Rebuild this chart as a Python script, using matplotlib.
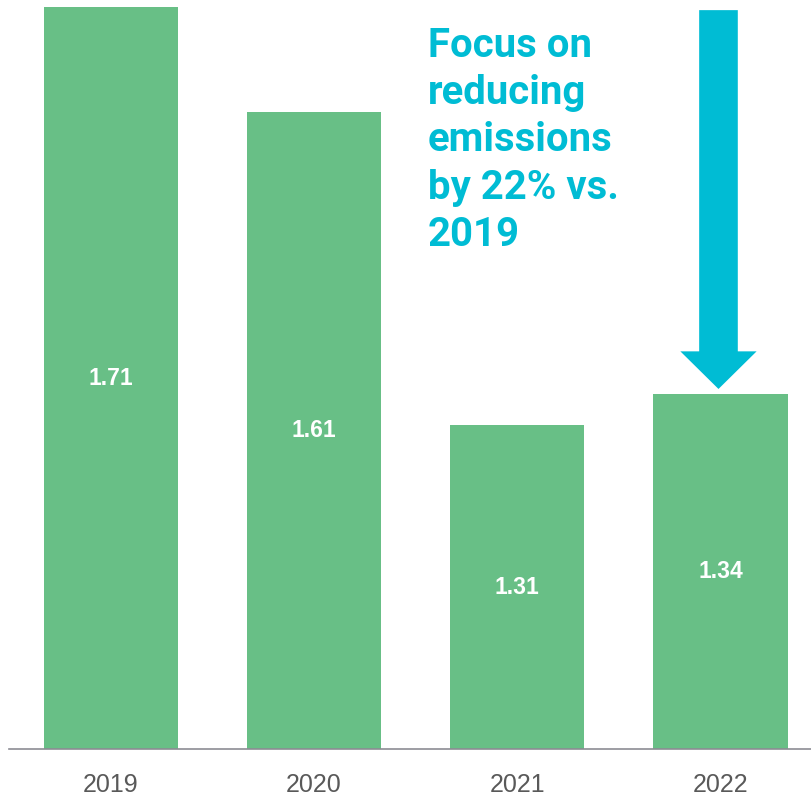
import numpy as np
import matplotlib
matplotlib.use("Agg")
import matplotlib.pyplot as plt
import matplotlib.patches as mpatches

# data
years = ["2019", "2020", "2021", "2022"]
values = [1.71, 1.61, 1.31, 1.34]
note = "Focus on\nreducing\nemissions\nby 22% vs.\n2019"

bar_color = "#68bf86"
accent = "#00bcd4"

fig = plt.figure(figsize=(8.12, 7.96), dpi=100)
ax = fig.add_axes([9 / 812, 47 / 796, 803 / 812, 749 / 796])

x = np.arange(len(years))
bars = ax.bar(x, values, width=0.66, color=bar_color, bottom=0)
ax.set_xlim(-0.5, 3.45)
ymin, ymax = 1.0, 1.7167
ax.set_ylim(ymin, ymax)

# value labels centred in each bar
for xi, v in zip(x, values):
    ax.text(xi, (ymin + v) / 2, f"{v:.2f}", ha="center", va="center",
            color="white", fontsize=16.5, fontweight="bold",
            family="Liberation Sans")

ax.set_xticks(x)
ax.set_xticklabels(years, fontsize=18, color="#595959", family="Liberation Sans")
ax.tick_params(axis="x", length=0, pad=17)
ax.set_yticks([])
for s in ["top", "right", "left"]:
    ax.spines[s].set_visible(False)
ax.spines["bottom"].set_color("#8c8c94")
ax.spines["bottom"].set_linewidth(1.2)

# arrow pointing down to the 2022 bar
i = years.index("2022")
tip = values[i] + 0.0045
top = 1.707
arrow = mpatches.FancyArrow(x[i] - 0.01, top, 0, tip - top, width=0.19,
                            head_width=0.375, head_length=0.036,
                            length_includes_head=True, color=accent, lw=0)
ax.add_patch(arrow)

ax.text(1.561, 1.691, note, ha="left", va="top", color=accent,
        fontsize=28.9, fontweight="bold", family="Roboto", linespacing=1.31)

fig.savefig("out.png", dpi=100)
